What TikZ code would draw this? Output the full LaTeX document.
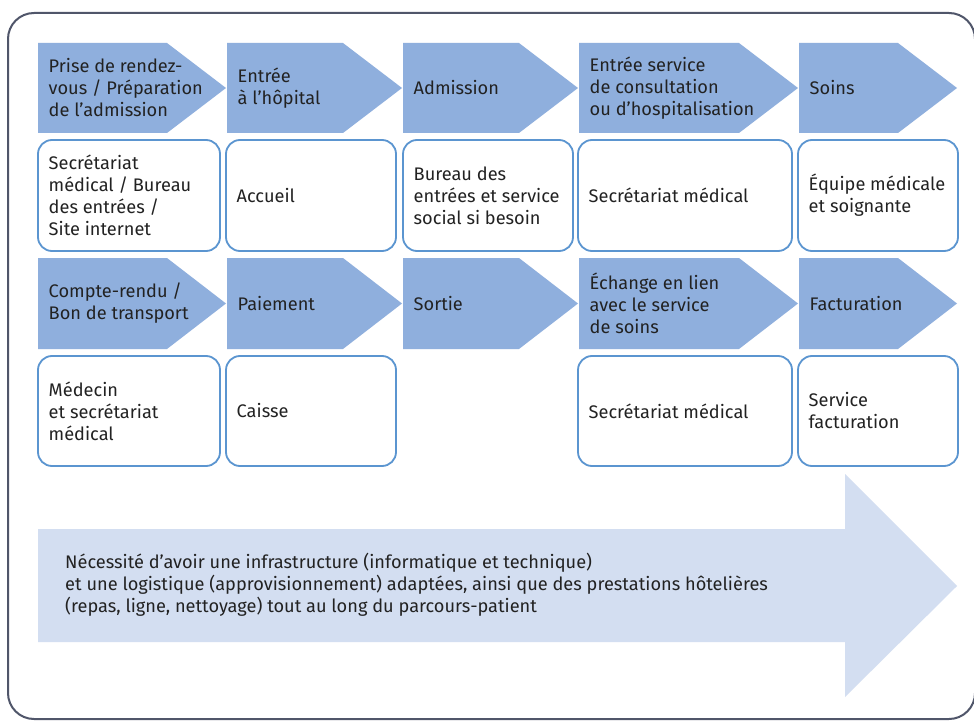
\documentclass[tikz,border=0pt]{standalone}
\usepackage{fontspec}
\setmainfont{Fira Sans}
\definecolor{chevfill}{HTML}{8FAFDD}
\definecolor{boxline}{HTML}{5B95D0}
\definecolor{bigfill}{HTML}{D3DEF1}
\definecolor{frameline}{HTML}{50566A}
\definecolor{txt}{HTML}{222222}
\tikzset{
  lbl/.style={anchor=west, align=left, inner sep=0pt, text=txt, font=\fontsize{18.2}{22}\selectfont},
  rbox/.style={draw=boxline, line width=1.8pt, fill=white, rounded corners=14pt},
  chevshape/.style={fill=chevfill},
}
\newcommand{\chevron}[5]{% name, x1, x2, ytop, ybot
  \fill[chevshape] (#2,#4) -- ({#3-59},#4) -- (#3,{(#4+#5)/2}) -- ({#3-59},#5) -- (#2,#5) -- cycle;
  \coordinate (#1) at ({#2+10.5},{(#4+#5)/2});
}
\newcommand{\rbox}[5]{% name, x1, x2, ytop, ybot
  \draw[rbox] (#2,#4) rectangle (#3,#5);
  \coordinate (#1) at ({#2+10.5},{(#4+#5)/2});
}
\begin{document}
\begin{tikzpicture}[x=1pt,y=-1pt]
\useasboundingbox (0,0) rectangle (974,722);
\fill[white] (0,0) rectangle (974,722);
\draw[frameline, line width=2pt, rounded corners=26pt] (8,13) rectangle (975,719);

% row 1 chevrons
\chevron{c1}{38}{226}{43}{133}
\chevron{c2}{227}{402}{43}{133}
\chevron{c3}{403}{578}{43}{133}
\chevron{c4}{579}{798}{43}{133}
\chevron{c5}{799}{957}{43}{133}
\node[lbl] (t1) at (c1) {Prise de rendez-\\vous / Préparation\\de l’admission};
\node[lbl] (t2) at (c2) {Entrée\\à l’hôpital};
\node[lbl] (t3) at (c3) {Admission};
\node[lbl] (t4) at (c4) {Entrée service\\de consultation\\ou d’hospitalisation};
\node[lbl] (t5) at (c5) {Soins};

% row 1 boxes
\rbox{b1}{38}{220}{140}{251}
\rbox{b2}{226}{396}{140}{251}
\rbox{b3}{403}{573}{140}{251}
\rbox{b4}{578}{792}{140}{251}
\rbox{b5}{798}{958}{140}{251}
\node[lbl] (u1) at (b1) {Secrétariat\\médical / Bureau\\des entrées /\\Site internet};
\node[lbl] (u2) at (b2) {Accueil};
\node[lbl] (u3) at (b3) {Bureau des\\entrées et service\\social si besoin};
\node[lbl] (u4) at (b4) {Secrétariat médical};
\node[lbl] (u5) at (b5) {Équipe médicale\\et soignante};

% row 2 chevrons
\chevron{d1}{38}{226}{258}{349}
\chevron{d2}{227}{402}{258}{349}
\chevron{d3}{403}{578}{258}{349}
\chevron{d4}{579}{798}{258}{349}
\chevron{d5}{799}{957}{258}{349}
\node[lbl] (v1) at (d1) {Compte-rendu /\\Bon de transport};
\node[lbl] (v2) at (d2) {Paiement};
\node[lbl] (v3) at (d3) {Sortie};
\node[lbl] (v4) at (d4) {Échange en lien\\avec le service\\de soins};
\node[lbl] (v5) at (d5) {Facturation};

% row 2 boxes
\rbox{e1}{38}{220}{356}{466}
\rbox{e2}{226}{396}{356}{466}
\rbox{e4}{578}{792}{356}{466}
\rbox{e5}{798}{958}{356}{466}
\node[lbl] (w1) at (e1) {Médecin\\et secrétariat\\médical};
\node[lbl] (w2) at (e2) {Caisse};
\node[lbl] (w4) at (e4) {Secrétariat médical};
\node[lbl] (w5) at (e5) {Service\\facturation};

% big arrow
\fill[bigfill] (38,529) -- (845,529) -- (845,474) -- (957,586) -- (845,697) -- (845,642) -- (38,642) -- cycle;
\coordinate (bigtxt) at (65,585);
\node[lbl] (big) at (bigtxt) {Nécessité d’avoir une infrastructure (informatique et technique)\\et une logistique (approvisionnement) adaptées, ainsi que des prestations hôtelières\\(repas, ligne, nettoyage) tout au long du parcours-patient};
\end{tikzpicture}
\end{document}
